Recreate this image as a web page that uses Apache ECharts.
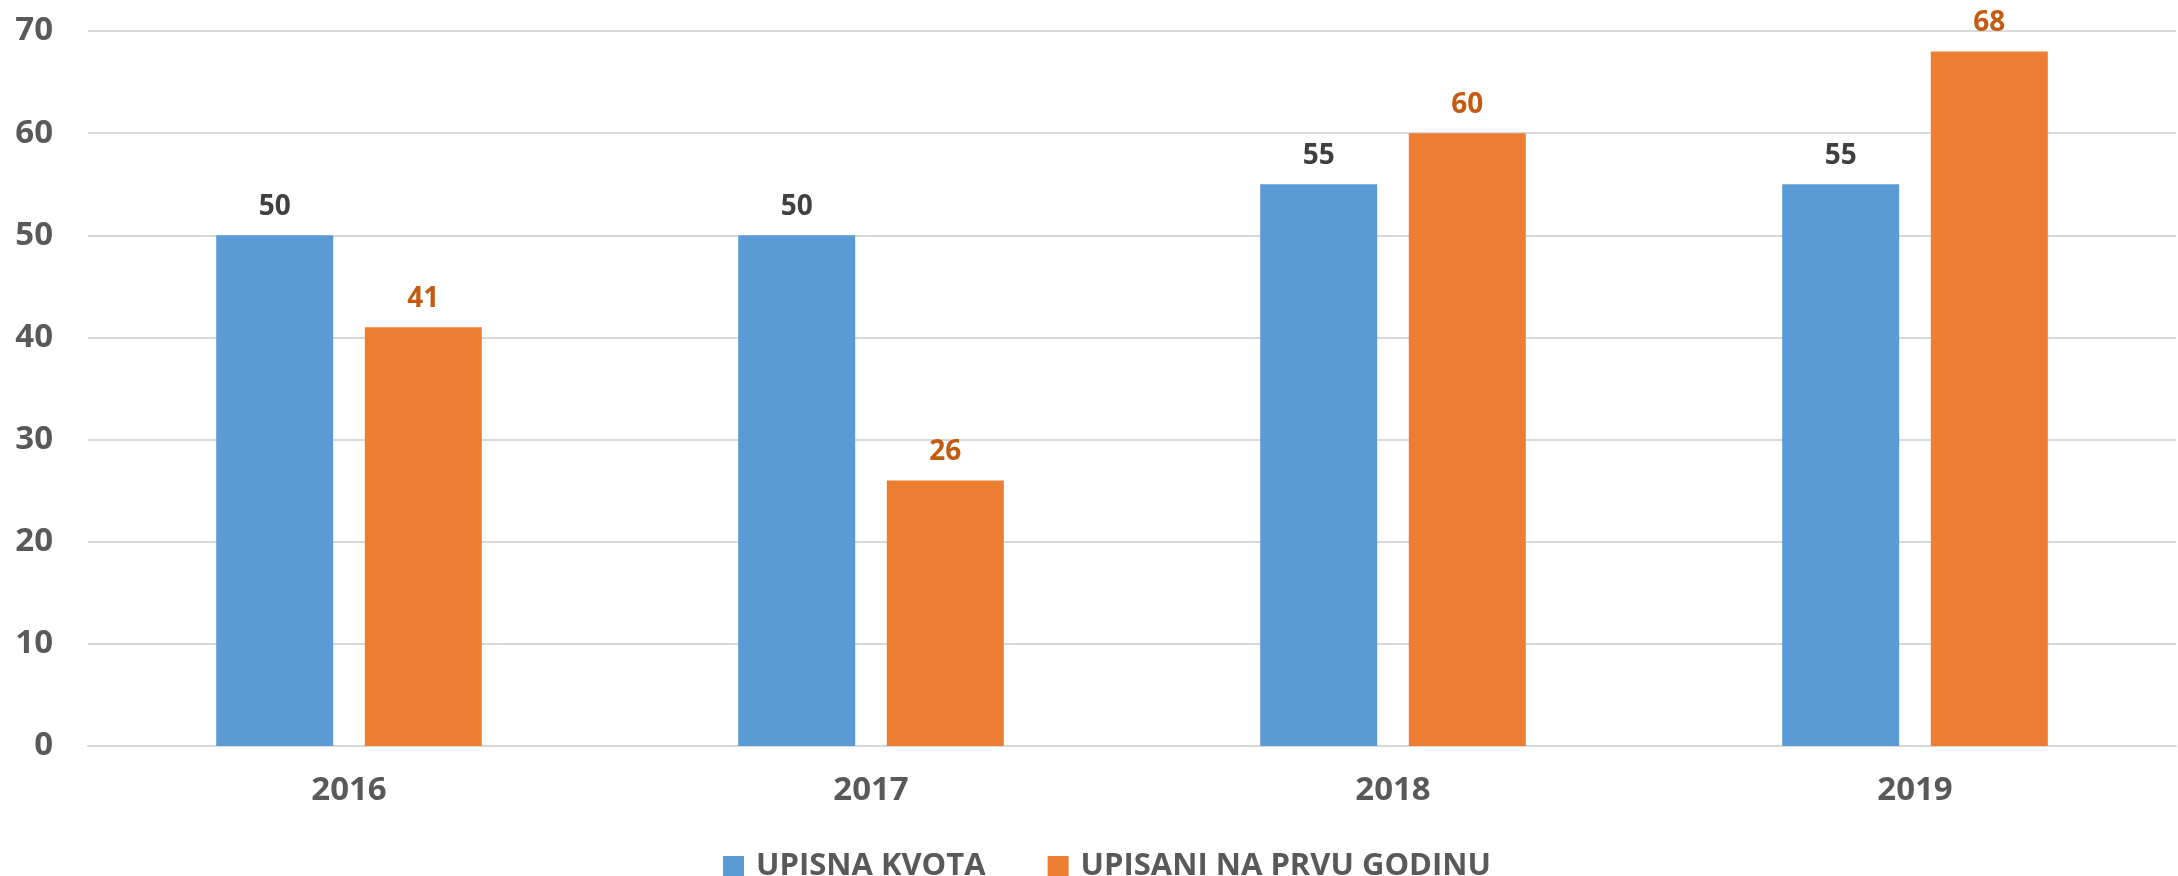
<!DOCTYPE html>
<html>
<head>
<meta charset="utf-8">
<script src="https://cdn.jsdelivr.net/npm/echarts@6/dist/echarts.min.js"></script>
<style>
  html, body { margin: 0; padding: 0; background: #fff; }
  #chart { width: 2178px; height: 876px; }
</style>
</head>
<body>
<div id="chart"></div>
<script>
const years = ["2016", "2017", "2018", "2019"];
const upisnaKvota = [50, 50, 55, 55];
const upisaniPrvu = [41, 26, 60, 68];
const yTicks = [0, 10, 20, 30, 40, 50, 60, 70];

const chart = echarts.init(document.getElementById("chart"));
const font = "'Open Sans', 'DejaVu Sans', sans-serif";

chart.setOption({
  animation: false,
  textStyle: { fontFamily: font },
  grid: { left: 88, right: 2, top: 31, bottom: 130 },
  legend: {
    top: 846,
    left: 718,
    itemWidth: 21,
    itemHeight: 21,
    itemGap: 62,
    icon: "rect",
    textStyle: { color: "#595959", fontSize: 31, lineHeight: 31, fontWeight: "bold", fontFamily: font, padding: [0, 0, 0, 7] },
    data: ["UPISNA KVOTA", "UPISANI NA PRVU GODINU"]
  },
  xAxis: {
    type: "category",
    data: years,
    axisTick: { show: false },
    axisLine: { lineStyle: { color: "#D9D9D9", width: 2 } },
    axisLabel: { color: "#595959", fontSize: 33, fontWeight: "bold", margin: 28 }
  },
  yAxis: {
    type: "value",
    min: yTicks[0],
    max: yTicks[yTicks.length - 1],
    interval: 10,
    axisLine: { show: false },
    axisTick: { show: false },
    splitLine: { lineStyle: { color: "#D9D9D9", width: 2 } },
    axisLabel: { color: "#595959", fontSize: 33, fontWeight: "bold", margin: 35 }
  },
  series: [
    {
      name: "UPISNA KVOTA",
      type: "bar",
      data: upisnaKvota,
      barWidth: 117,
      barGap: "27%",
      itemStyle: { color: "#5B9BD5" },
      label: { show: true, position: "top", distance: 14, color: "#404040", fontSize: 28, fontWeight: "bold" }
    },
    {
      name: "UPISANI NA PRVU GODINU",
      type: "bar",
      data: upisaniPrvu,
      barWidth: 117,
      itemStyle: { color: "#ED7D31" },
      label: { show: true, position: "top", distance: 14, color: "#C55A11", fontSize: 28, fontWeight: "bold" }
    }
  ]
});
</script>
</body>
</html>
